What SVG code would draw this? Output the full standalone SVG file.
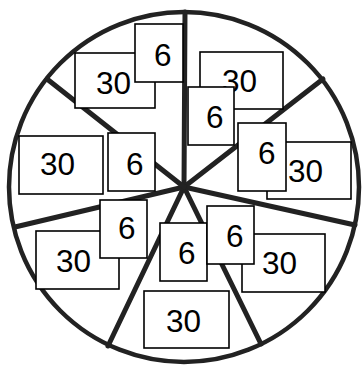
<svg xmlns="http://www.w3.org/2000/svg" width="363" height="368" viewBox="0 0 363 368">
<style>
.rim{fill:#fff;stroke:#222;stroke-width:4.5}
.spoke{stroke:#222;stroke-width:5;stroke-linecap:round}
.box{fill:#fff;stroke:#000;stroke-width:1.6}
.t{font-family:"Liberation Sans",Arial,sans-serif;font-size:31.5px;fill:#000}
</style>
<rect width="363" height="368" fill="#fff"/>
<circle class="rim" cx="184" cy="187" r="175"/>
<g id="connectors">
<line class="spoke" x1="184" y1="187" x2="185" y2="12"/>
<line class="spoke" x1="184" y1="187" x2="323" y2="79"/>
<line class="spoke" x1="184" y1="187" x2="355" y2="225"/>
<line class="spoke" x1="184" y1="187" x2="261" y2="344"/>
<line class="spoke" x1="184" y1="187" x2="108" y2="346"/>
<line class="spoke" x1="184" y1="187" x2="15" y2="227"/>
<line class="spoke" x1="184" y1="187" x2="47" y2="79"/>
</g>
<g id="n30tl"><rect class="box" x="75" y="53" width="80" height="55"/><text class="t" x="96" y="94">30</text></g>
<g id="n6tl"><rect class="box" x="135" y="24" width="48" height="58"/><text class="t" x="154" y="66">6</text></g>
<g id="n30tr"><rect class="box" x="200" y="52" width="83" height="57"/><text class="t" x="222" y="92">30</text></g>
<g id="n6tr"><rect class="box" x="188" y="87" width="46" height="58"/><text class="t" x="206" y="128">6</text></g>
<g id="n30r"><rect class="box" x="267" y="142" width="84" height="57"/><text class="t" x="288" y="182">30</text></g>
<g id="n6r"><rect class="box" x="238" y="123" width="48" height="68"/><text class="t" x="258" y="164">6</text></g>
<g id="n30l"><rect class="box" x="19" y="136" width="84" height="58"/><text class="t" x="40" y="175">30</text></g>
<g id="n6l"><rect class="box" x="108" y="133" width="47" height="58"/><text class="t" x="126" y="175">6</text></g>
<g id="n30ll"><rect class="box" x="36" y="231" width="83" height="58"/><text class="t" x="56" y="272">30</text></g>
<g id="n6ll"><rect class="box" x="100" y="200" width="47" height="58"/><text class="t" x="118" y="239">6</text></g>
<g id="n6c"><rect class="box" x="160" y="223" width="47" height="58"/><text class="t" x="178" y="264">6</text></g>
<g id="n30lr"><rect class="box" x="242" y="234" width="83" height="58"/><text class="t" x="262" y="274">30</text></g>
<g id="n6lr"><rect class="box" x="207" y="206" width="47" height="58"/><text class="t" x="226" y="247">6</text></g>
<g id="n30b"><rect class="box" x="144" y="291" width="85" height="57"/><text class="t" x="166" y="332">30</text></g>
</svg>
